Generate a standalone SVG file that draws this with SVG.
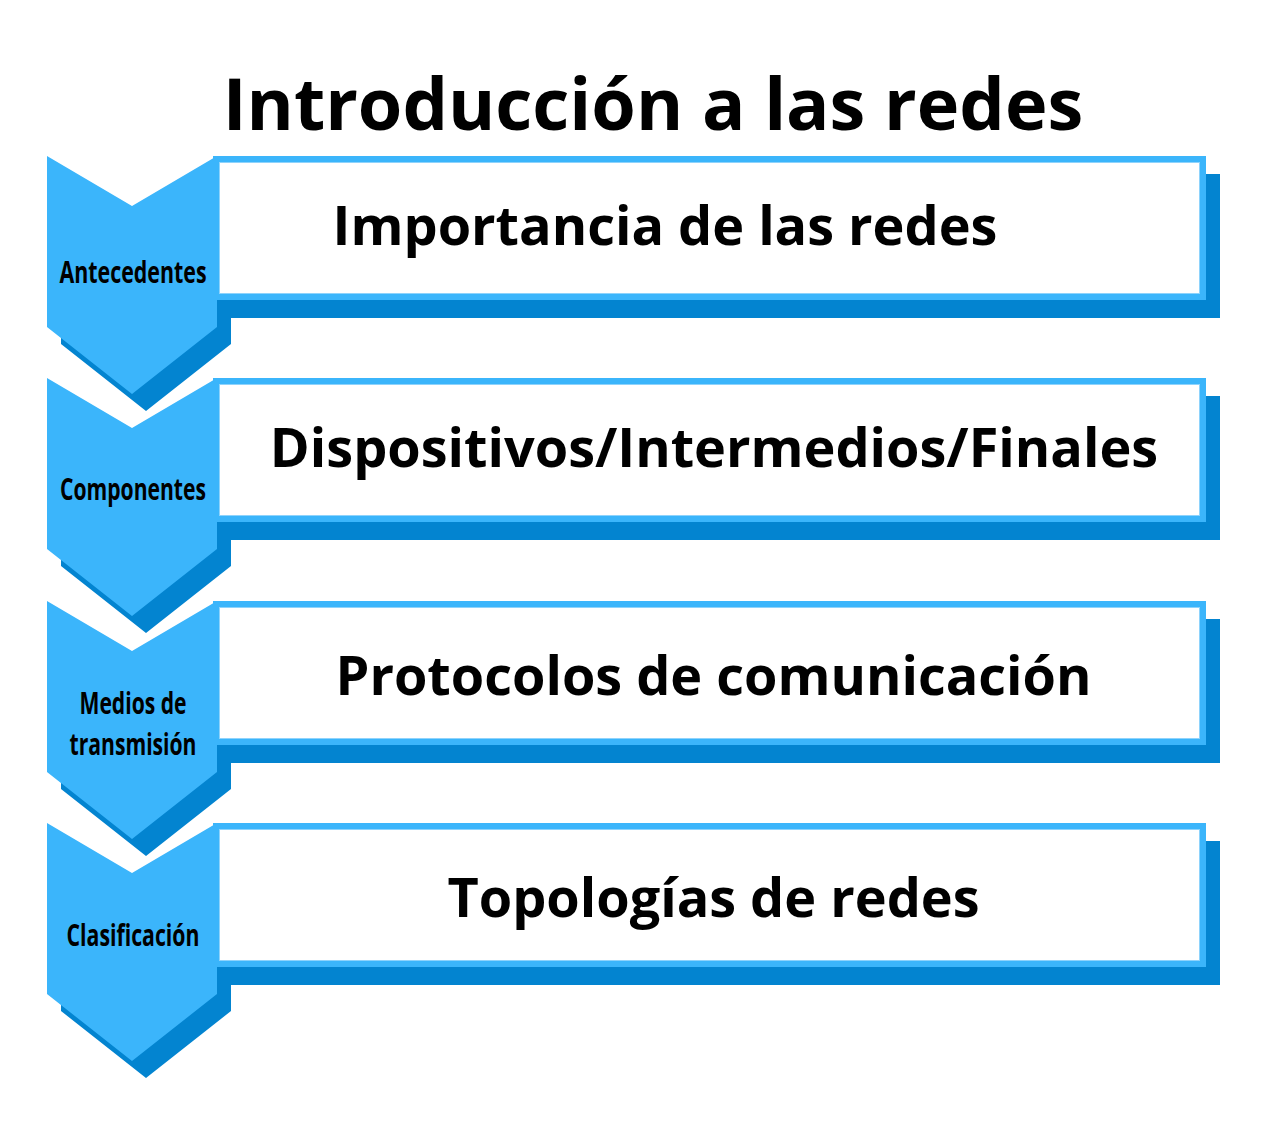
<svg xmlns="http://www.w3.org/2000/svg" width="1269" height="1140" viewBox="0 0 1269 1140">
<defs>
<style>
.dark{fill:#0384D0}
.light{fill:#3BB5FB}
.inner{fill:#ffffff;stroke:#8ED3FC;stroke-width:1}
.title{font-family:"Open Sans","Noto Sans",sans-serif;font-weight:700;font-size:72px;fill:#000}
.main{font-family:"Open Sans","Noto Sans",sans-serif;font-weight:700;font-size:54px;fill:#000}
.lab{font-family:"Open Sans","Noto Sans",sans-serif;font-weight:700;font-size:31px;fill:#000}
</style>
<path id="chev" d="M47,0 L132,50 L217,0 L217,171 L132,238 L47,171 Z"/>
</defs>
<rect width="1269" height="1140" fill="#ffffff"/>
<text class="title" x="653" y="130" text-anchor="middle">Introducción a las redes</text>

<g id="step1" transform="translate(0,156)">
<use href="#chev" class="dark" transform="translate(14,17)"/>
<rect class="dark" x="227" y="18" width="993" height="144"/>
<use href="#chev" class="light"/>
<rect class="light" x="213" y="0" width="993" height="144"/>
<rect class="inner" x="219.5" y="6.5" width="980" height="131"/>
<text class="lab" x="133" y="127" text-anchor="middle" textLength="147" lengthAdjust="spacingAndGlyphs">Antecedentes</text>
<text class="main" x="665" y="89" text-anchor="middle">Importancia de las redes</text>
</g>

<g id="step2" transform="translate(0,378)">
<use href="#chev" class="dark" transform="translate(14,17)"/>
<rect class="dark" x="227" y="18" width="993" height="144"/>
<use href="#chev" class="light"/>
<rect class="light" x="213" y="0" width="993" height="144"/>
<rect class="inner" x="219.5" y="6.5" width="980" height="131"/>
<text class="lab" x="133" y="122" text-anchor="middle" textLength="146" lengthAdjust="spacingAndGlyphs">Componentes</text>
<text class="main" x="714" y="89" text-anchor="middle">Dispositivos/Intermedios/Finales</text>
</g>

<g id="step3" transform="translate(0,601)">
<use href="#chev" class="dark" transform="translate(14,17)"/>
<rect class="dark" x="227" y="18" width="993" height="144"/>
<use href="#chev" class="light"/>
<rect class="light" x="213" y="0" width="993" height="144"/>
<rect class="inner" x="219.5" y="6.5" width="980" height="131"/>
<text class="lab" x="133" y="113" text-anchor="middle" textLength="107" lengthAdjust="spacingAndGlyphs">Medios de</text>
<text class="lab" x="133" y="154" text-anchor="middle" textLength="127" lengthAdjust="spacingAndGlyphs">transmisión</text>
<text class="main" x="713.5" y="94" text-anchor="middle">Protocolos de comunicación</text>
</g>

<g id="step4" transform="translate(0,823)">
<use href="#chev" class="dark" transform="translate(14,17)"/>
<rect class="dark" x="227" y="18" width="993" height="144"/>
<use href="#chev" class="light"/>
<rect class="light" x="213" y="0" width="993" height="144"/>
<rect class="inner" x="219.5" y="6.5" width="980" height="131"/>
<text class="lab" x="133" y="123" text-anchor="middle" textLength="133" lengthAdjust="spacingAndGlyphs">Clasificación</text>
<text class="main" x="713.5" y="94" text-anchor="middle">Topologías de redes</text>
</g>
<g id="connectors"></g>
</svg>
